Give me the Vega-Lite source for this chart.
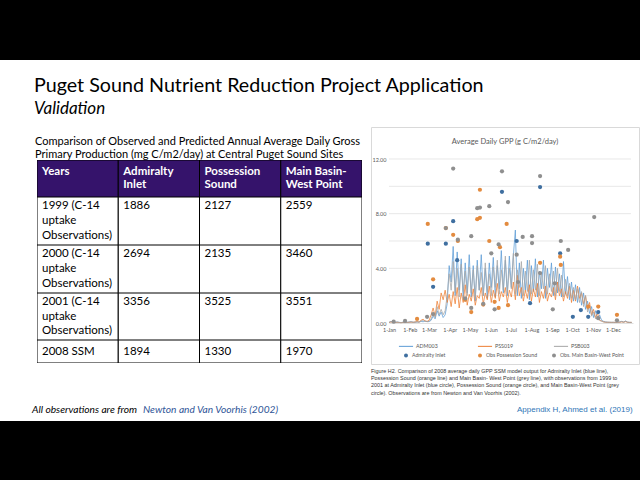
{
"$schema":"https://vega.github.io/schema/vega-lite/v6.json",
"background":"white",
"padding":0,
"spacing":0,
"config":{"view":{"stroke":null},"font":"Lato","title":{"fontWeight":"normal","color":"black","frame":"group","anchor":"start","orient":"top"}},
"datasets":{
"blank":[{"k":""}],
"table":[
{"r":"h","col":"Years","line":1,"t":"Years"},
{"r":"h","col":"Admiralty Inlet","line":1,"t":"Admiralty"},
{"r":"h","col":"Admiralty Inlet","line":2,"t":"Inlet"},
{"r":"h","col":"Possession Sound","line":1,"t":"Possession"},
{"r":"h","col":"Possession Sound","line":2,"t":"Sound"},
{"r":"h","col":"Main Basin-West Point","line":1,"t":"Main Basin-"},
{"r":"h","col":"Main Basin-West Point","line":2,"t":"West Point"},
{"r":"y1999","col":"Years","line":1,"t":"1999 (C-14"},
{"r":"y1999","col":"Years","line":2,"t":"uptake"},
{"r":"y1999","col":"Years","line":3,"t":"Observations)"},
{"r":"y1999","col":"Admiralty Inlet","line":1,"t":"1886"},
{"r":"y1999","col":"Possession Sound","line":1,"t":"2127"},
{"r":"y1999","col":"Main Basin-West Point","line":1,"t":"2559"},
{"r":"y2000","col":"Years","line":1,"t":"2000 (C-14"},
{"r":"y2000","col":"Years","line":2,"t":"uptake"},
{"r":"y2000","col":"Years","line":3,"t":"Observations)"},
{"r":"y2000","col":"Admiralty Inlet","line":1,"t":"2694"},
{"r":"y2000","col":"Possession Sound","line":1,"t":"2135"},
{"r":"y2000","col":"Main Basin-West Point","line":1,"t":"3460"},
{"r":"y2001","col":"Years","line":1,"t":"2001 (C-14"},
{"r":"y2001","col":"Years","line":2,"t":"uptake"},
{"r":"y2001","col":"Years","line":3,"t":"Observations)"},
{"r":"y2001","col":"Admiralty Inlet","line":1,"t":"3356"},
{"r":"y2001","col":"Possession Sound","line":1,"t":"3525"},
{"r":"y2001","col":"Main Basin-West Point","line":1,"t":"3551"},
{"r":"y2008","col":"Years","line":1,"t":"2008 SSM"},
{"r":"y2008","col":"Admiralty Inlet","line":1,"t":"1894"},
{"r":"y2008","col":"Possession Sound","line":1,"t":"1330"},
{"r":"y2008","col":"Main Basin-West Point","line":1,"t":"1970"}
],
"ts":[
{"d":"2008-01-01","ADM003":0.05,"PSS019":0.03,"PSB003":0.04},
{"d":"2008-01-04","ADM003":0.12,"PSS019":0.08,"PSB003":0.1},
{"d":"2008-01-07","ADM003":0.06,"PSS019":0.04,"PSB003":0.05},
{"d":"2008-01-10","ADM003":0.04,"PSS019":0.03,"PSB003":0.03},
{"d":"2008-01-13","ADM003":0.08,"PSS019":0.05,"PSB003":0.06},
{"d":"2008-01-16","ADM003":0.05,"PSS019":0.04,"PSB003":0.04},
{"d":"2008-01-19","ADM003":0.03,"PSS019":0.02,"PSB003":0.03},
{"d":"2008-01-22","ADM003":0.06,"PSS019":0.04,"PSB003":0.05},
{"d":"2008-01-25","ADM003":0.04,"PSS019":0.03,"PSB003":0.04},
{"d":"2008-01-28","ADM003":0.05,"PSS019":0.04,"PSB003":0.04},
{"d":"2008-01-31","ADM003":0.07,"PSS019":0.05,"PSB003":0.06},
{"d":"2008-02-03","ADM003":0.1,"PSS019":0.06,"PSB003":0.08},
{"d":"2008-02-06","ADM003":0.06,"PSS019":0.05,"PSB003":0.05},
{"d":"2008-02-09","ADM003":0.05,"PSS019":0.08,"PSB003":0.06},
{"d":"2008-02-12","ADM003":0.08,"PSS019":0.1,"PSB003":0.09},
{"d":"2008-02-15","ADM003":0.06,"PSS019":0.07,"PSB003":0.07},
{"d":"2008-02-18","ADM003":0.12,"PSS019":0.2,"PSB003":0.15},
{"d":"2008-02-21","ADM003":0.09,"PSS019":0.28,"PSB003":0.18},
{"d":"2008-02-24","ADM003":0.14,"PSS019":0.15,"PSB003":0.12},
{"d":"2008-02-27","ADM003":0.1,"PSS019":0.12,"PSB003":0.1},
{"d":"2008-03-01","ADM003":0.1,"PSS019":0.2,"PSB003":0.12},
{"d":"2008-03-04","ADM003":0.2,"PSS019":0.6,"PSB003":0.3},
{"d":"2008-03-07","ADM003":0.5,"PSS019":1.1,"PSB003":0.7},
{"d":"2008-03-10","ADM003":0.3,"PSS019":0.5,"PSB003":0.4},
{"d":"2008-03-13","ADM003":0.9,"PSS019":1.6,"PSB003":1.2},
{"d":"2008-03-16","ADM003":0.5,"PSS019":1.0,"PSB003":0.6},
{"d":"2008-03-19","ADM003":0.8,"PSS019":2.2,"PSB003":1.0},
{"d":"2008-03-22","ADM003":0.4,"PSS019":1.7,"PSB003":0.6},
{"d":"2008-03-25","ADM003":0.6,"PSS019":2.4,"PSB003":0.9},
{"d":"2008-03-28","ADM003":1.4,"PSS019":1.5,"PSB003":2.0},
{"d":"2008-03-31","ADM003":4.2,"PSS019":2.1,"PSB003":3.6},
{"d":"2008-04-03","ADM003":3.0,"PSS019":1.2,"PSB003":2.4},
{"d":"2008-04-06","ADM003":5.6,"PSS019":2.3,"PSB003":4.5},
{"d":"2008-04-09","ADM003":2.0,"PSS019":1.4,"PSB003":2.2},
{"d":"2008-04-12","ADM003":5.2,"PSS019":2.6,"PSB003":4.0},
{"d":"2008-04-15","ADM003":2.4,"PSS019":1.1,"PSB003":1.9},
{"d":"2008-04-18","ADM003":4.7,"PSS019":2.2,"PSB003":4.3},
{"d":"2008-04-21","ADM003":1.8,"PSS019":1.5,"PSB003":2.3},
{"d":"2008-04-24","ADM003":4.4,"PSS019":2.8,"PSB003":3.8},
{"d":"2008-04-27","ADM003":2.2,"PSS019":1.3,"PSB003":2.0},
{"d":"2008-04-30","ADM003":5.0,"PSS019":2.1,"PSB003":4.1},
{"d":"2008-05-03","ADM003":1.9,"PSS019":1.6,"PSB003":2.2},
{"d":"2008-05-06","ADM003":4.2,"PSS019":2.5,"PSB003":3.9},
{"d":"2008-05-09","ADM003":1.6,"PSS019":1.3,"PSB003":1.8},
{"d":"2008-05-12","ADM003":4.6,"PSS019":2.0,"PSB003":4.2},
{"d":"2008-05-15","ADM003":2.4,"PSS019":1.8,"PSB003":2.4},
{"d":"2008-05-18","ADM003":5.0,"PSS019":2.6,"PSB003":3.7},
{"d":"2008-05-21","ADM003":2.0,"PSS019":1.4,"PSB003":2.0},
{"d":"2008-05-24","ADM003":4.0,"PSS019":2.2,"PSB003":4.4},
{"d":"2008-05-27","ADM003":1.8,"PSS019":1.7,"PSB003":2.3},
{"d":"2008-05-30","ADM003":4.4,"PSS019":2.7,"PSB003":3.6},
{"d":"2008-06-02","ADM003":2.6,"PSS019":1.5,"PSB003":2.0},
{"d":"2008-06-05","ADM003":4.8,"PSS019":2.4,"PSB003":4.1},
{"d":"2008-06-08","ADM003":1.9,"PSS019":1.8,"PSB003":2.6},
{"d":"2008-06-11","ADM003":4.2,"PSS019":2.9,"PSB003":4.6},
{"d":"2008-06-14","ADM003":2.5,"PSS019":1.6,"PSB003":2.1},
{"d":"2008-06-17","ADM003":5.3,"PSS019":2.3,"PSB003":3.9},
{"d":"2008-06-20","ADM003":2.2,"PSS019":1.9,"PSB003":2.4},
{"d":"2008-06-23","ADM003":4.6,"PSS019":2.6,"PSB003":4.9},
{"d":"2008-06-26","ADM003":2.0,"PSS019":1.5,"PSB003":2.2},
{"d":"2008-06-29","ADM003":4.9,"PSS019":2.4,"PSB003":4.0},
{"d":"2008-07-02","ADM003":2.6,"PSS019":1.9,"PSB003":2.5},
{"d":"2008-07-05","ADM003":4.9,"PSS019":3.0,"PSB003":5.1},
{"d":"2008-07-08","ADM003":6.8,"PSS019":1.7,"PSB003":2.1},
{"d":"2008-07-11","ADM003":2.0,"PSS019":3.5,"PSB003":3.9},
{"d":"2008-07-14","ADM003":4.4,"PSS019":2.0,"PSB003":2.6},
{"d":"2008-07-17","ADM003":1.8,"PSS019":2.6,"PSB003":4.5},
{"d":"2008-07-20","ADM003":4.0,"PSS019":1.6,"PSB003":2.0},
{"d":"2008-07-23","ADM003":2.4,"PSS019":2.4,"PSB003":3.8},
{"d":"2008-07-26","ADM003":4.6,"PSS019":1.8,"PSB003":2.3},
{"d":"2008-07-29","ADM003":1.7,"PSS019":2.8,"PSB003":4.6},
{"d":"2008-08-01","ADM003":4.2,"PSS019":1.6,"PSB003":2.1},
{"d":"2008-08-04","ADM003":2.3,"PSS019":2.5,"PSB003":3.9},
{"d":"2008-08-07","ADM003":4.7,"PSS019":1.9,"PSB003":2.4},
{"d":"2008-08-10","ADM003":1.9,"PSS019":2.9,"PSB003":4.3},
{"d":"2008-08-13","ADM003":3.8,"PSS019":1.5,"PSB003":2.0},
{"d":"2008-08-16","ADM003":2.5,"PSS019":2.3,"PSB003":3.7},
{"d":"2008-08-19","ADM003":4.6,"PSS019":1.8,"PSB003":2.5},
{"d":"2008-08-22","ADM003":1.8,"PSS019":2.7,"PSB003":4.2},
{"d":"2008-08-25","ADM003":4.0,"PSS019":1.6,"PSB003":2.1},
{"d":"2008-08-28","ADM003":2.6,"PSS019":2.2,"PSB003":3.6},
{"d":"2008-08-31","ADM003":4.4,"PSS019":1.9,"PSB003":2.3},
{"d":"2008-09-03","ADM003":2.0,"PSS019":2.6,"PSB003":3.8},
{"d":"2008-09-06","ADM003":4.1,"PSS019":1.7,"PSB003":2.0},
{"d":"2008-09-09","ADM003":2.2,"PSS019":3.0,"PSB003":4.0},
{"d":"2008-09-12","ADM003":3.6,"PSS019":2.0,"PSB003":2.3},
{"d":"2008-09-15","ADM003":1.9,"PSS019":2.5,"PSB003":3.5},
{"d":"2008-09-18","ADM003":4.5,"PSS019":1.6,"PSB003":1.9},
{"d":"2008-09-21","ADM003":2.1,"PSS019":2.3,"PSB003":3.2},
{"d":"2008-09-24","ADM003":3.4,"PSS019":1.8,"PSB003":2.0},
{"d":"2008-09-27","ADM003":1.7,"PSS019":2.7,"PSB003":2.9},
{"d":"2008-09-30","ADM003":3.0,"PSS019":1.5,"PSB003":1.8},
{"d":"2008-10-03","ADM003":1.6,"PSS019":2.4,"PSB003":2.6},
{"d":"2008-10-06","ADM003":2.8,"PSS019":1.6,"PSB003":1.7},
{"d":"2008-10-09","ADM003":1.5,"PSS019":2.7,"PSB003":2.5},
{"d":"2008-10-12","ADM003":2.6,"PSS019":1.8,"PSB003":1.5},
{"d":"2008-10-15","ADM003":1.3,"PSS019":2.2,"PSB003":2.3},
{"d":"2008-10-18","ADM003":2.2,"PSS019":1.4,"PSB003":1.2},
{"d":"2008-10-21","ADM003":1.0,"PSS019":2.0,"PSB003":2.0},
{"d":"2008-10-24","ADM003":1.6,"PSS019":1.0,"PSB003":0.8},
{"d":"2008-10-27","ADM003":0.7,"PSS019":1.5,"PSB003":1.3},
{"d":"2008-10-30","ADM003":1.2,"PSS019":0.6,"PSB003":0.5},
{"d":"2008-11-02","ADM003":0.4,"PSS019":1.0,"PSB003":0.8},
{"d":"2008-11-05","ADM003":0.9,"PSS019":0.4,"PSB003":0.3},
{"d":"2008-11-08","ADM003":0.3,"PSS019":0.7,"PSB003":0.5},
{"d":"2008-11-11","ADM003":0.6,"PSS019":0.2,"PSB003":0.2},
{"d":"2008-11-14","ADM003":0.2,"PSS019":0.15,"PSB003":0.12},
{"d":"2008-11-17","ADM003":0.12,"PSS019":0.08,"PSB003":0.08},
{"d":"2008-11-20","ADM003":0.08,"PSS019":0.05,"PSB003":0.06},
{"d":"2008-11-23","ADM003":0.06,"PSS019":0.05,"PSB003":0.05},
{"d":"2008-11-26","ADM003":0.05,"PSS019":0.05,"PSB003":0.05},
{"d":"2008-11-29","ADM003":0.05,"PSS019":0.04,"PSB003":0.05},
{"d":"2008-12-02","ADM003":0.05,"PSS019":0.05,"PSB003":0.04},
{"d":"2008-12-05","ADM003":0.04,"PSS019":0.04,"PSB003":0.05},
{"d":"2008-12-08","ADM003":0.06,"PSS019":0.06,"PSB003":0.05},
{"d":"2008-12-11","ADM003":0.08,"PSS019":0.05,"PSB003":0.07},
{"d":"2008-12-14","ADM003":0.12,"PSS019":0.08,"PSB003":0.1},
{"d":"2008-12-17","ADM003":0.07,"PSS019":0.06,"PSB003":0.06},
{"d":"2008-12-20","ADM003":0.15,"PSS019":0.1,"PSB003":0.12},
{"d":"2008-12-23","ADM003":0.06,"PSS019":0.05,"PSB003":0.05},
{"d":"2008-12-26","ADM003":0.05,"PSS019":0.04,"PSB003":0.04},
{"d":"2008-12-29","ADM003":0.04,"PSS019":0.05,"PSB003":0.04}
],
"obs":[
{"d":"2008-02-28","series":"Admiralty Inlet","v":5.8},
{"d":"2008-03-07","series":"Admiralty Inlet","v":2.65},
{"d":"2008-03-26","series":"Admiralty Inlet","v":5.8},
{"d":"2008-04-06","series":"Admiralty Inlet","v":7.45},
{"d":"2008-04-12","series":"Admiralty Inlet","v":4.6},
{"d":"2008-06-18","series":"Admiralty Inlet","v":9.6},
{"d":"2008-07-10","series":"Admiralty Inlet","v":6.0},
{"d":"2008-07-30","series":"Admiralty Inlet","v":1.45},
{"d":"2008-08-14","series":"Admiralty Inlet","v":9.95},
{"d":"2008-09-13","series":"Admiralty Inlet","v":5.1},
{"d":"2008-10-02","series":"Admiralty Inlet","v":0.45},
{"d":"2008-10-14","series":"Admiralty Inlet","v":0.95},
{"d":"2008-10-25","series":"Admiralty Inlet","v":0.45},
{"d":"2008-11-09","series":"Admiralty Inlet","v":0.8},
{"d":"2008-02-12","series":"Obs Possession Sound","v":0.3},
{"d":"2008-02-28","series":"Obs Possession Sound","v":7.25},
{"d":"2008-03-07","series":"Obs Possession Sound","v":3.2},
{"d":"2008-03-26","series":"Obs Possession Sound","v":6.95},
{"d":"2008-04-06","series":"Obs Possession Sound","v":6.45},
{"d":"2008-04-13","series":"Obs Possession Sound","v":6.0},
{"d":"2008-04-24","series":"Obs Possession Sound","v":1.7},
{"d":"2008-05-03","series":"Obs Possession Sound","v":0.8},
{"d":"2008-05-12","series":"Obs Possession Sound","v":7.6},
{"d":"2008-05-16","series":"Obs Possession Sound","v":7.7},
{"d":"2008-05-16","series":"Obs Possession Sound","v":9.75},
{"d":"2008-05-21","series":"Obs Possession Sound","v":1.35},
{"d":"2008-05-30","series":"Obs Possession Sound","v":6.0},
{"d":"2008-06-07","series":"Obs Possession Sound","v":1.55},
{"d":"2008-06-13","series":"Obs Possession Sound","v":1.1},
{"d":"2008-06-15","series":"Obs Possession Sound","v":5.55},
{"d":"2008-06-25","series":"Obs Possession Sound","v":7.25},
{"d":"2008-06-27","series":"Obs Possession Sound","v":1.3},
{"d":"2008-08-14","series":"Obs Possession Sound","v":4.4},
{"d":"2008-09-13","series":"Obs Possession Sound","v":4.85},
{"d":"2008-09-14","series":"Obs Possession Sound","v":4.25},
{"d":"2008-10-25","series":"Obs Possession Sound","v":1.2},
{"d":"2008-11-09","series":"Obs Possession Sound","v":1.2},
{"d":"2008-12-07","series":"Obs Possession Sound","v":0.6},
{"d":"2008-01-08","series":"Obs. Main Basin-West Point","v":0.1},
{"d":"2008-01-25","series":"Obs. Main Basin-West Point","v":0.15},
{"d":"2008-02-27","series":"Obs. Main Basin-West Point","v":0.45},
{"d":"2008-03-07","series":"Obs. Main Basin-West Point","v":0.65},
{"d":"2008-03-26","series":"Obs. Main Basin-West Point","v":6.95},
{"d":"2008-04-06","series":"Obs. Main Basin-West Point","v":11.3},
{"d":"2008-04-13","series":"Obs. Main Basin-West Point","v":6.1},
{"d":"2008-04-24","series":"Obs. Main Basin-West Point","v":1.8},
{"d":"2008-05-03","series":"Obs. Main Basin-West Point","v":6.35},
{"d":"2008-05-03","series":"Obs. Main Basin-West Point","v":1.1},
{"d":"2008-05-12","series":"Obs. Main Basin-West Point","v":8.4},
{"d":"2008-05-16","series":"Obs. Main Basin-West Point","v":8.45},
{"d":"2008-05-21","series":"Obs. Main Basin-West Point","v":1.4},
{"d":"2008-05-30","series":"Obs. Main Basin-West Point","v":8.55},
{"d":"2008-06-02","series":"Obs. Main Basin-West Point","v":5.1},
{"d":"2008-06-07","series":"Obs. Main Basin-West Point","v":1.0},
{"d":"2008-06-13","series":"Obs. Main Basin-West Point","v":5.75},
{"d":"2008-06-18","series":"Obs. Main Basin-West Point","v":11.1},
{"d":"2008-06-27","series":"Obs. Main Basin-West Point","v":8.85},
{"d":"2008-07-10","series":"Obs. Main Basin-West Point","v":5.0},
{"d":"2008-07-12","series":"Obs. Main Basin-West Point","v":3.0},
{"d":"2008-07-19","series":"Obs. Main Basin-West Point","v":6.3},
{"d":"2008-08-02","series":"Obs. Main Basin-West Point","v":6.35},
{"d":"2008-08-02","series":"Obs. Main Basin-West Point","v":5.85},
{"d":"2008-08-14","series":"Obs. Main Basin-West Point","v":10.75},
{"d":"2008-08-14","series":"Obs. Main Basin-West Point","v":3.65},
{"d":"2008-09-02","series":"Obs. Main Basin-West Point","v":1.0},
{"d":"2008-09-05","series":"Obs. Main Basin-West Point","v":2.9},
{"d":"2008-09-14","series":"Obs. Main Basin-West Point","v":6.0},
{"d":"2008-09-25","series":"Obs. Main Basin-West Point","v":5.35},
{"d":"2008-11-03","series":"Obs. Main Basin-West Point","v":7.75},
{"d":"2008-11-09","series":"Obs. Main Basin-West Point","v":0.35},
{"d":"2008-12-07","series":"Obs. Main Basin-West Point","v":0.2}
]
},
"vconcat":[
{"width":640,"height":60,"view":{"fill":"black","stroke":null},"data":{"name":"blank"},"mark":"text","encoding":{"text":{"field":"k"}}},
{"width":640,"height":61,"data":{"name":"blank"},"mark":"text","encoding":{"text":{"field":"k"}},
 "title":{"text":"Puget Sound Nutrient Reduction Project Application","subtitle":"Validation","offset":-57,"dx":34,"font":"Lato","fontSize":19.7,"subtitleFont":"Lato","subtitleFontSize":17,"subtitleFontStyle":"italic","subtitleColor":"black","subtitlePadding":5}},
{"hconcat":[
 {"width":35,"height":1,"data":{"name":"blank"},"mark":"text","encoding":{"text":{"field":"k"}}},
 {"vconcat":[
  {"width":325,"height":33,"data":{"name":"blank"},"mark":"text","encoding":{"text":{"field":"k"}},
   "title":{"text":["Comparison of Observed and Predicted Annual Average Daily Gross","Primary Production (mg C/m2/day) at Central Puget Sound Sites"],"offset":-33,"dx":-2,"fontSize":11,"lineHeight":13.5,"font":"Lato"}},
  {"width":325,"height":37,"data":{"name":"table"},"transform":[{"filter":"datum.r == 'h'"}],
   "layer":[
    {"transform":[{"filter":"datum.line == 1"}],"mark":{"type":"rect","fill":"#35136B","stroke":"black","strokeWidth":1,"clip":true},
     "encoding":{"x":{"field":"col","type":"nominal","axis":null,"scale":{"type":"band","domain":["Years","Admiralty Inlet","Possession Sound","Main Basin-West Point"],"paddingInner":0,"paddingOuter":0}}}},
    {"mark":{"type":"text","align":"left","baseline":"middle","dx":5,"fontSize":11.5,"font":"Lato","fontWeight":"bold","color":"white"},
     "encoding":{"x":{"field":"col","type":"nominal","axis":null,"bandPosition":0,"scale":{"type":"band","domain":["Years","Admiralty Inlet","Possession Sound","Main Basin-West Point"],"paddingInner":0,"paddingOuter":0}},
      "y":{"field":"line","type":"ordinal","axis":null,"scale":{"type":"point","domain":[1,2],"padding":0.92}},
      "text":{"field":"t"}}}
   ]},
  {"width":325,"height":48,"data":{"name":"table"},"transform":[{"filter":"datum.r == 'y1999'"}],
   "layer":[
    {"transform":[{"filter":"datum.line == 1"}],"mark":{"type":"rect","fill":"white","stroke":"black","strokeWidth":1,"clip":true},
     "encoding":{"x":{"field":"col","type":"nominal","axis":null,"scale":{"type":"band","domain":["Years","Admiralty Inlet","Possession Sound","Main Basin-West Point"],"paddingInner":0,"paddingOuter":0}}}},
    {"mark":{"type":"text","align":"left","baseline":"middle","dx":5,"fontSize":11.5,"font":"Lato","color":"black"},
     "encoding":{"x":{"field":"col","type":"nominal","axis":null,"bandPosition":0,"scale":{"type":"band","domain":["Years","Admiralty Inlet","Possession Sound","Main Basin-West Point"],"paddingInner":0,"paddingOuter":0}},
      "y":{"field":"line","type":"ordinal","axis":null,"scale":{"type":"point","domain":[1,2,3],"padding":0.65}},
      "text":{"field":"t"}}}
   ]},
  {"width":325,"height":48,"data":{"name":"table"},"transform":[{"filter":"datum.r == 'y2000'"}],
   "layer":[
    {"transform":[{"filter":"datum.line == 1"}],"mark":{"type":"rect","fill":"white","stroke":"black","strokeWidth":1,"clip":true},
     "encoding":{"x":{"field":"col","type":"nominal","axis":null,"scale":{"type":"band","domain":["Years","Admiralty Inlet","Possession Sound","Main Basin-West Point"],"paddingInner":0,"paddingOuter":0}}}},
    {"mark":{"type":"text","align":"left","baseline":"middle","dx":5,"fontSize":11.5,"font":"Lato","color":"black"},
     "encoding":{"x":{"field":"col","type":"nominal","axis":null,"bandPosition":0,"scale":{"type":"band","domain":["Years","Admiralty Inlet","Possession Sound","Main Basin-West Point"],"paddingInner":0,"paddingOuter":0}},
      "y":{"field":"line","type":"ordinal","axis":null,"scale":{"type":"point","domain":[1,2,3],"padding":0.65}},
      "text":{"field":"t"}}}
   ]},
  {"width":325,"height":47,"data":{"name":"table"},"transform":[{"filter":"datum.r == 'y2001'"}],
   "layer":[
    {"transform":[{"filter":"datum.line == 1"}],"mark":{"type":"rect","fill":"white","stroke":"black","strokeWidth":1,"clip":true},
     "encoding":{"x":{"field":"col","type":"nominal","axis":null,"scale":{"type":"band","domain":["Years","Admiralty Inlet","Possession Sound","Main Basin-West Point"],"paddingInner":0,"paddingOuter":0}}}},
    {"mark":{"type":"text","align":"left","baseline":"middle","dx":5,"fontSize":11.5,"font":"Lato","color":"black"},
     "encoding":{"x":{"field":"col","type":"nominal","axis":null,"bandPosition":0,"scale":{"type":"band","domain":["Years","Admiralty Inlet","Possession Sound","Main Basin-West Point"],"paddingInner":0,"paddingOuter":0}},
      "y":{"field":"line","type":"ordinal","axis":null,"scale":{"type":"point","domain":[1,2,3],"padding":0.65}},
      "text":{"field":"t"}}}
   ]},
  {"width":325,"height":23,"data":{"name":"table"},"transform":[{"filter":"datum.r == 'y2008'"}],
   "layer":[
    {"transform":[{"filter":"datum.line == 1"}],"mark":{"type":"rect","fill":"white","stroke":"black","strokeWidth":1,"clip":true},
     "encoding":{"x":{"field":"col","type":"nominal","axis":null,"scale":{"type":"band","domain":["Years","Admiralty Inlet","Possession Sound","Main Basin-West Point"],"paddingInner":0,"paddingOuter":0}}}},
    {"mark":{"type":"text","align":"left","baseline":"middle","dx":5,"fontSize":11.5,"font":"Lato","color":"black"},
     "encoding":{"x":{"field":"col","type":"nominal","axis":null,"bandPosition":0,"scale":{"type":"band","domain":["Years","Admiralty Inlet","Possession Sound","Main Basin-West Point"],"paddingInner":0,"paddingOuter":0}},
      "y":{"field":"line","type":"ordinal","axis":null,"scale":{"type":"point","domain":[1],"padding":0.5}},
      "text":{"field":"t"}}}
   ]}
 ],"spacing":0},
 {"width":8,"height":1,"data":{"name":"blank"},"mark":"text","encoding":{"text":{"field":"k"}}},
 {"vconcat":[
  {"width":268,"height":237,"view":{"fill":"white","stroke":"#D9D9D9"},
   "title":{"text":"Average Daily GPP (g C/m2/day)","anchor":"middle","offset":-18,"fontSize":7.5,"color":"#595959","font":"Lato"},
   "layer":[
    {"data":{"values":[{"g":2},{"g":4},{"g":6},{"g":8},{"g":10},{"g":12}]},
     "mark":{"type":"rule","color":"#D9D9D9","strokeWidth":0.6},
     "encoding":{
      "y":{"field":"g","type":"quantitative","scale":{"domain":[0,12],"range":[196,32],"nice":false,"zero":false},
        "axis":{"orient":"left","offset":-18,"values":[0,2,4,6,8,10,12],"format":".2f","domain":false,"ticks":false,"grid":false,"labelPadding":3,"labelFontSize":5.5,"labelColor":"#595959","title":null,"labelFont":"Lato"}},
      "x":{"datum":{"year":2008,"month":1,"date":1,"utc":true},"type":"temporal",
        "scale":{"type":"utc","domain":[{"year":2008,"month":1,"date":1,"utc":true},{"year":2008,"month":12,"date":31,"utc":true}],"range":[18,262]},
        "axis":{"orient":"bottom","offset":-41,"format":"%-d-%b","tickCount":{"interval":"month","step":1},"labelFontSize":5.5,"labelColor":"#595959","domainColor":"#D9D9D9","domainWidth":0.8,"ticks":false,"grid":false,"labelPadding":4,"title":null,"labelOverlap":false,"labelFont":"Lato","labelBound":false,"labelFlush":false}},
      "x2":{"datum":{"year":2008,"month":12,"date":28,"utc":true}}}},
    {"data":{"name":"ts"},"transform":[{"fold":["ADM003","PSS019","PSB003"],"as":["series","v"]}],
     "mark":{"type":"line","strokeWidth":0.75},
     "encoding":{
      "x":{"field":"d","type":"temporal"},
      "y":{"field":"v","type":"quantitative"},
      "stroke":{"field":"series","type":"nominal","scale":{"domain":["ADM003","PSS019","PSB003"],"range":["#5B9BD5","#ED7D31","#A5A5A5"]},
        "legend":{"title":null,"orient":"none","legendX":398,"legendY":338,"columns":3,"symbolType":"stroke","symbolSize":200,"symbolStrokeWidth":1,"labelFontSize":5.3,"labelColor":"#595959","labelFont":"Lato","columnPadding":37,"labelOffset":2,"padding":0}}}},
    {"data":{"name":"obs"},"mark":{"type":"circle","size":18,"opacity":1},
     "encoding":{
      "x":{"field":"d","type":"temporal"},
      "y":{"field":"v","type":"quantitative"},
      "fill":{"field":"series","type":"nominal","scale":{"domain":["Admiralty Inlet","Obs Possession Sound","Obs. Main Basin-West Point"],"range":["#3F6FA0","#E38B3F","#8F8F8F"]},
        "legend":{"title":null,"orient":"none","legendX":403,"legendY":352,"columns":3,"symbolType":"circle","symbolSize":16,"labelFontSize":5.2,"labelColor":"#595959","labelFont":"Lato","columnPadding":1,"gridAlign":"all","labelOffset":3,"padding":0}}}}
   ]},
  {"width":268,"height":34,"data":{"name":"blank"},"mark":"text","encoding":{"text":{"field":"k"}},
   "title":{"text":["Figure H2. Comparison of 2008 average daily GPP SSM model output for Admiralty Inlet (blue line),","Possession Sound (orange line) and Main Basin- West Point (grey line), with observations from 1999 to","2001 at Admiralty Inlet (blue circle), Possession Sound (orange circle), and Main Basin-West Point (grey","circle). Observations are from Newton and Van Voorhis (2002)."],"offset":-31,"fontSize":5.4,"lineHeight":7.3,"font":"Liberation Sans","color":"#333333"}}
 ],"spacing":0}
],"spacing":0},
{"hconcat":[
 {"width":143,"height":22,"data":{"name":"blank"},"mark":"text","encoding":{"text":{"field":"k"}},
  "title":{"text":"All observations are from","offset":-16,"dx":32,"fontSize":10.2,"fontStyle":"italic","font":"Lato"}},
 {"width":374,"height":22,"data":{"name":"blank"},"mark":"text","encoding":{"text":{"field":"k"}},
  "title":{"text":"Newton and Van Voorhis (2002)","offset":-16,"fontSize":10.2,"fontStyle":"italic","font":"Lato","color":"#2F5597"}},
 {"width":123,"height":22,"data":{"name":"blank"},"mark":"text","encoding":{"text":{"field":"k"}},
  "title":{"text":"Appendix H, Ahmed et al. (2019)","offset":-15,"fontSize":8,"font":"Liberation Sans","color":"#2E75B6"}}
],"spacing":0},
{"width":640,"height":60,"view":{"fill":"black","stroke":null},"data":{"name":"blank"},"mark":"text","encoding":{"text":{"field":"k"}}}
]
}
